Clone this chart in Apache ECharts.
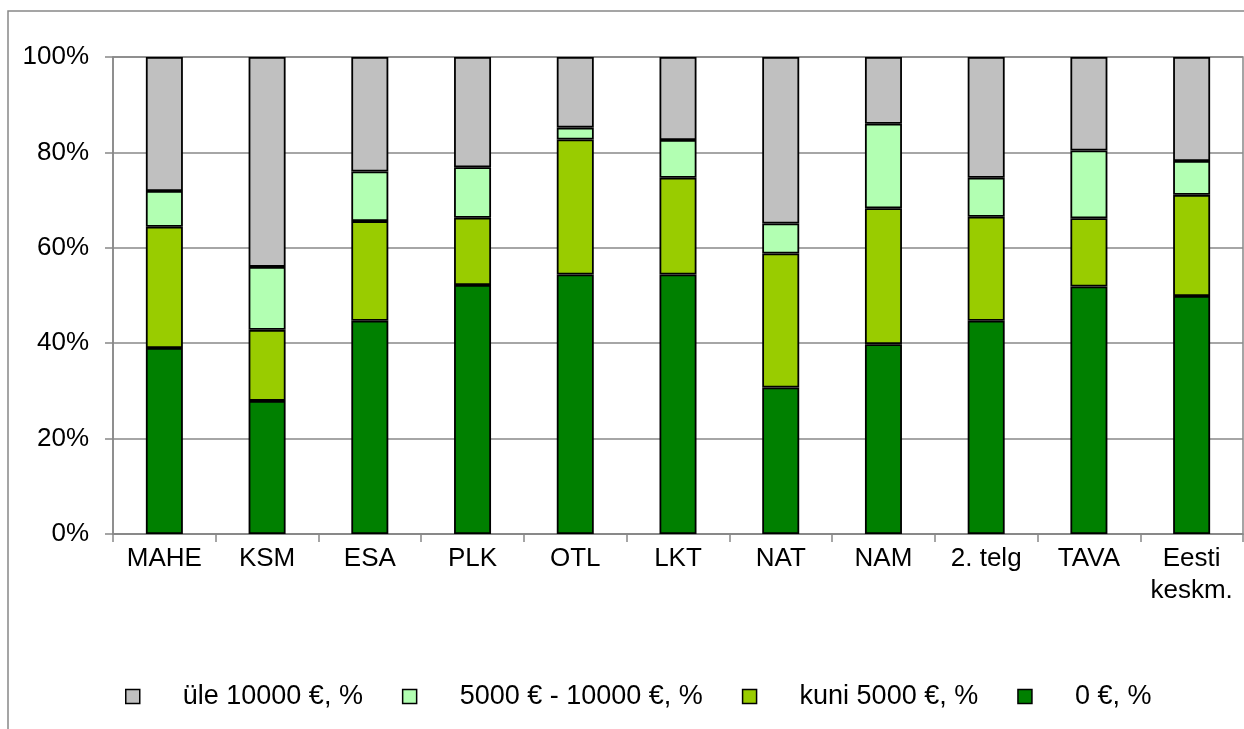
<!DOCTYPE html>
<html>
<head>
<meta charset="utf-8">
<script src="https://cdn.jsdelivr.net/npm/echarts@6/dist/echarts.min.js"></script>
<style>
html,body{margin:0;padding:0;background:#fff;}
#c{width:1244px;height:729px;}
</style>
</head>
<body>
<div id="c"></div>
<script>
const categories = ['MAHE','KSM','ESA','PLK','OTL','LKT','NAT','NAM','2. telg','TAVA','Eesti\nkeskm.'];
const yTicks = [0,20,40,60,80,100];
const seriesNames = ['0 €, %','kuni 5000 €, %','5000 € - 10000 €, %','üle 10000 €, %'];
const zero =      [39.0, 27.9, 44.7, 52.2, 54.4, 54.4, 30.7, 39.8, 44.7, 51.9, 49.9];
const upTo5000 =  [25.4, 14.9, 20.9, 14.1, 28.3, 20.3, 28.1, 28.5, 21.8, 14.3, 21.2];
const from5000 =  [ 7.5, 13.2, 10.4, 10.6,  2.5,  7.9,  6.3, 17.7,  8.2, 14.2,  7.1];
const over10000 = [28.1, 44.0, 24.0, 23.1, 14.8, 17.4, 34.9, 14.0, 25.3, 19.6, 21.8];
const colors = ['#008000','#99CC00','#B2FFB2','#C0C0C0'];
const values = [zero, upTo5000, from5000, over10000];

const FONT = 'Liberation Sans, Arial, sans-serif';
const chart = echarts.init(document.getElementById('c'), null, {renderer:'canvas'});
chart.setOption({
  animation:false,
  backgroundColor:'#fff',
  graphic:[{type:'rect', shape:{x:8, y:11, width:1400, height:900}, style:{fill:'none', stroke:'#888', lineWidth:1.5}, silent:true, z:-1}],
  grid:{left:113, right:1, top:57, bottom:195, show:true, borderColor:'#888', borderWidth:1.5, backgroundColor:'transparent'},
  legend:{
    data:[seriesNames[3], seriesNames[2], seriesNames[1], seriesNames[0]],
    left:120, top:678, itemWidth:14, itemHeight:14, itemGap:39, icon:'rect',
    itemStyle:{borderColor:'#000', borderWidth:1.5},
    textStyle:{fontFamily:FONT, fontSize:27, color:'#000', padding:[0,0,0,38], lineHeight:27}
  },
  xAxis:{
    type:'category', data:categories,
    axisLine:{lineStyle:{color:'#888', width:1.5}},
    axisTick:{show:true, length:8, lineStyle:{color:'#888', width:1.5}},
    axisLabel:{fontFamily:FONT, fontSize:26, color:'#000', margin:9, lineHeight:32, interval:0}
  },
  yAxis:{
    type:'value', min:0, max:100, interval:20,
    axisLine:{show:true, lineStyle:{color:'#888', width:1.5}},
    axisTick:{show:true, length:8, lineStyle:{color:'#888', width:1.5}},
    splitLine:{lineStyle:{color:'#888', width:1.5}},
    axisLabel:{fontFamily:FONT, fontSize:26, color:'#000', margin:24, formatter:'{value}%'}
  },
  series: seriesNames.map((n,i)=>({
    name:n, type:'bar', stack:'total', barWidth:37, data:values[i],
    itemStyle:{color:colors[i], borderColor:'#000', borderWidth:1.8}
  }))
});
</script>
</body>
</html>
